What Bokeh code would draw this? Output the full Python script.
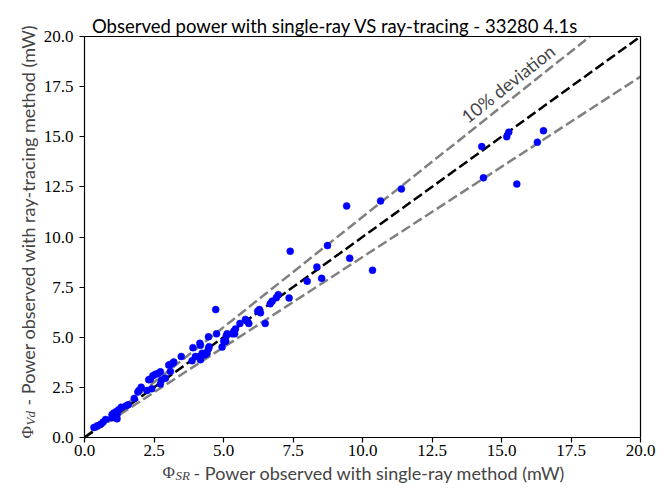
import math
from bokeh.plotting import figure
from bokeh.models import Label, FixedTicker, Range1d, LinearAxis
from bokeh.embed import file_html
from bokeh.resources import INLINE

# ---- data ----
phi_sr = [0.34, 0.46, 0.58, 0.67, 0.76,
          0.99, 1.05, 1.11, 1.17, 0.99, 1.17, 1.05, 1.15, 1.23, 1.32,
          1.50, 1.57, 1.79,
          1.92, 1.96, 2.04,
          2.25, 2.42,
          2.73, 2.77,
          2.31, 2.37, 2.46, 2.55, 2.64, 2.73,
          2.91, 3.09,
          3.03, 3.09, 3.17, 3.21,
          3.48,
          3.87, 3.99, 4.17, 4.14, 4.23, 4.32, 4.41,
          3.90, 4.15, 4.17,
          4.46, 4.48, 4.46,
          4.72, 4.75,
          4.95, 5.01, 5.08,
          5.10, 5.13,
          5.31, 5.40, 5.37, 5.43,
          5.59, 5.79, 5.85, 5.91,
          6.23, 6.29, 6.33,
          6.50,
          6.68, 6.75, 6.90, 6.97,
          7.36, 7.40,
          8.01, 8.36, 8.53, 8.74, 9.54,
          10.36, 9.43, 10.65, 11.40,
          14.29, 14.35, 15.19, 15.26, 15.55, 16.29, 16.51]
phi_vd = [0.50, 0.58, 0.66, 0.77, 0.90,
          0.98, 1.06, 1.06, 0.93, 1.14, 1.14, 1.22, 1.30, 1.38, 1.51,
          1.58, 1.63, 1.95,
          2.27, 2.35, 2.51,
          2.35, 2.43,
          2.67, 2.87,
          2.88, 2.91, 3.08, 3.15, 3.19, 3.28,
          2.96, 3.29,
          3.61, 3.64, 3.70, 3.77,
          4.04,
          3.83, 4.04, 3.88, 4.04, 4.20, 4.12, 4.20,
          4.48, 4.70, 4.60,
          4.43, 4.53, 5.02,
          6.38, 5.17,
          4.51, 4.80, 4.80,
          5.06, 5.17,
          5.17, 5.17, 5.30, 5.41,
          5.69, 5.89, 5.81, 5.69,
          6.30, 6.38, 6.22,
          5.69,
          6.67, 6.80, 6.97, 7.12,
          6.96, 9.29,
          7.79, 8.50, 7.94, 9.57, 8.94,
          8.34, 11.55, 11.80, 12.40,
          14.51, 12.95, 15.00, 15.23, 12.64, 14.73, 15.30]

deviation = 0.10
axis_min, axis_max = 0.0, 20.0
tick_values = [0.0, 2.5, 5.0, 7.5, 10.0, 12.5, 15.0, 17.5, 20.0]
tick_labels = ["0.0", "2.5", "5.0", "7.5", "10.0", "12.5", "15.0", "17.5", "20.0"]

title_text = "Observed power with single-ray VS ray-tracing - 33280 4.1s"
xlabel_rest = "- Power observed with single-ray method (mW)"
ylabel_rest = "- Power observed with ray-tracing method (mW)"
annot_text = "10% deviation"

# ---- layout: the frame fills the canvas, the axes are pinned at the box edges ----
W, H = 656, 484
BL, BR, BT, BB = 84, 16, 36, 47           # box position inside the canvas (px)
BW, BH = W - BL - BR, H - BT - BB
span = axis_max - axis_min
xr = Range1d(axis_min - BL / BW * span, axis_max + BR / BW * span)
yr = Range1d(axis_min - BB / BH * span, axis_max + BT / BH * span)

p = figure(width=W, height=H, x_range=xr, y_range=yr,
           x_axis_location=None, y_axis_location=None,
           min_border=0, min_border_left=0, min_border_right=0,
           min_border_top=0, min_border_bottom=0,
           output_backend="svg", toolbar_location=None, tools="")
p.xgrid.visible = False
p.ygrid.visible = False
p.outline_line_color = None
p.background_fill_color = "white"
p.border_fill_color = "white"

SANS = "Lato"
SERIF = "Liberation Serif"


def style_axis(ax, labelled, standoff=4):
    ax.bounds = (axis_min, axis_max)
    ax.axis_line_color = "black"
    ax.axis_line_width = 1.2
    ax.minor_tick_line_color = None
    if labelled:
        ax.ticker = FixedTicker(ticks=tick_values)
        ax.major_label_overrides = {v: l for v, l in zip(tick_values, tick_labels)}
        ax.major_label_text_font = SERIF
        ax.major_label_text_font_size = "17px"
        ax.major_label_text_color = "black"
        ax.major_tick_line_color = "black"
        ax.major_tick_line_width = 1.2
        ax.major_tick_out = 5
        ax.major_tick_in = 0
        ax.major_label_standoff = standoff
    else:
        ax.ticker = FixedTicker(ticks=[])
        ax.major_tick_line_color = None
        ax.major_label_text_font_size = "0px"


xax = LinearAxis(fixed_location=axis_min)
style_axis(xax, True, 2)
p.add_layout(xax, "below")
yax = LinearAxis(fixed_location=axis_min)
style_axis(yax, True, 6)
p.add_layout(yax, "left")
tax = LinearAxis(fixed_location=axis_max)
style_axis(tax, False)
p.add_layout(tax, "above")
rax = LinearAxis(fixed_location=axis_max)
style_axis(rax, False)
p.add_layout(rax, "right")

# reference lines, kept inside the box
up_x = [axis_min, axis_max / (1 + deviation)]
up_y = [v * (1 + deviation) for v in up_x]
lo_x = [axis_min, axis_max]
lo_y = [v * (1 - deviation) for v in lo_x]
id_x = [axis_min, axis_max]
p.line(up_x, up_y, line_color="#808080", line_width=2.5, line_dash="10 4")
p.line(lo_x, lo_y, line_color="#808080", line_width=2.5, line_dash="10 4")
p.line(id_x, id_x, line_color="black", line_width=2.5, line_dash="10 4")

p.scatter(phi_sr, phi_vd, size=7, fill_color="#0000ff", line_color="#0000ff", line_width=0.5)


def dx(px):
    return axis_min + (px - BL) / BW * span


def dy(py):
    return axis_min + (BT + BH - py) / BH * span


# title
p.add_layout(Label(x=dx(335), y=dy(25), text=title_text, text_align="center",
                   text_baseline="alphabetic", text_font=SANS, text_font_size="18.5px",
                   text_color="black"))

# x label
p.add_layout(Label(x=dx(162), y=dy(472), text="Φ", text_font=SERIF, text_font_size="17px",
                   text_baseline="alphabetic", text_align="left"))
p.add_layout(Label(x=dx(175), y=dy(475), text="SR", text_font=SERIF, text_font_style="italic",
                   text_font_size="13px", text_baseline="alphabetic", text_align="left"))
p.add_layout(Label(x=dx(193), y=dy(472), text=xlabel_rest, text_font=SANS, text_font_size="18px",
                   text_baseline="alphabetic", text_align="left"))

# y label (rotated)
rot = math.pi / 2
p.add_layout(Label(x=dx(27), y=dy(438), text="Φ", text_font=SERIF, text_font_size="17px",
                   text_baseline="alphabetic", text_align="left", angle=rot))
p.add_layout(Label(x=dx(30), y=dy(425), text="Vd", text_font=SERIF, text_font_style="italic",
                   text_font_size="13px", text_baseline="alphabetic", text_align="left", angle=rot))
p.add_layout(Label(x=dx(27), y=dy(405), text=ylabel_rest, text_font=SANS, text_font_size="18px",
                   text_baseline="alphabetic", text_align="left", angle=rot))

# 10% deviation annotation
slope_px = (1 + deviation) * (BH / span) / (BW / span)
p.add_layout(Label(x=13.64, y=15.9, text=annot_text, text_font=SANS, text_font_size="18px",
                   text_baseline="alphabetic", text_align="left", angle=math.atan(slope_px)))

open("out.html", "w").write(file_html(p, INLINE))
